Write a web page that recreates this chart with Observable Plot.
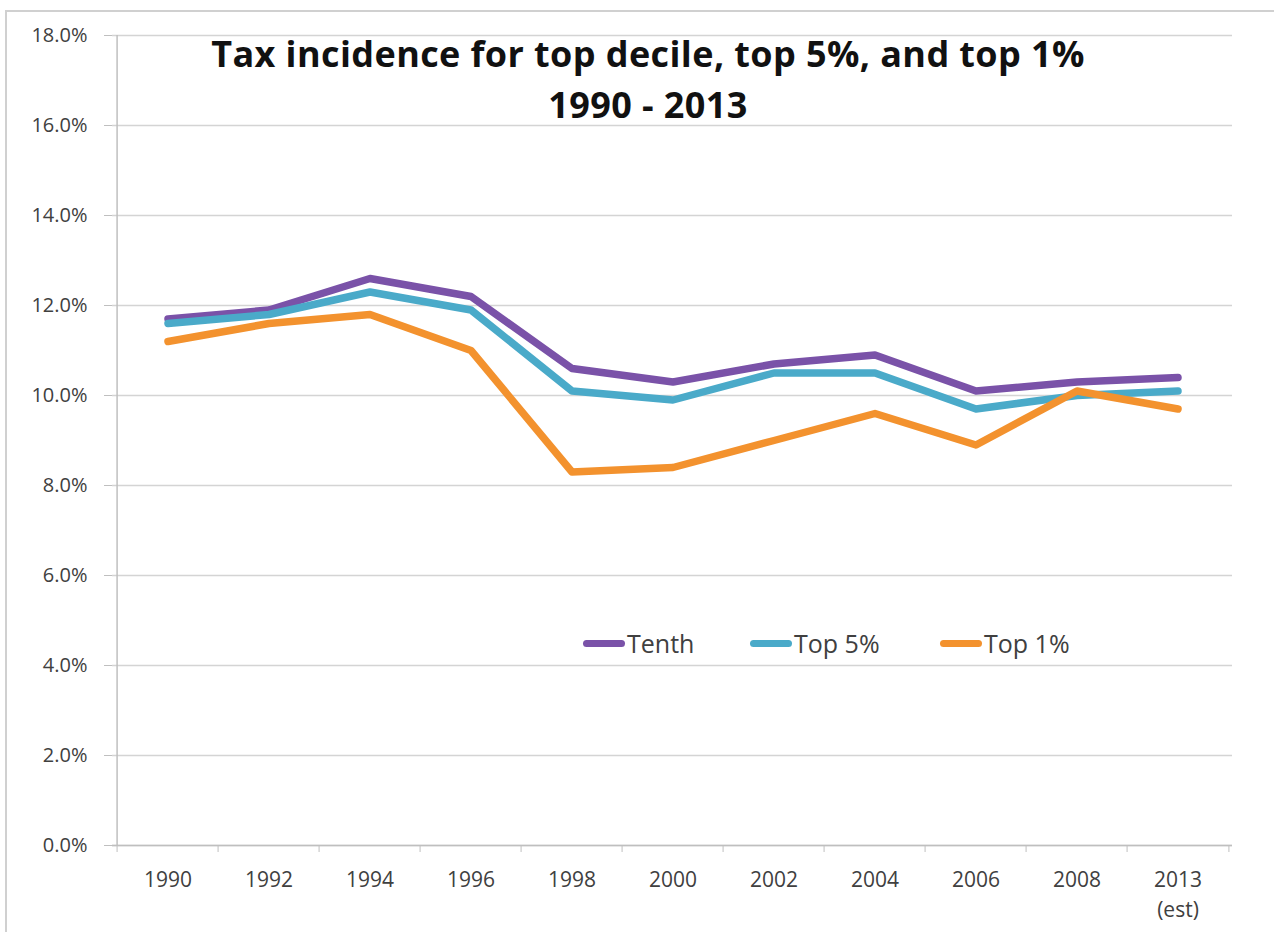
<!DOCTYPE html>
<html>
<head>
<meta charset="utf-8">
<script src="https://cdn.jsdelivr.net/npm/d3@7"></script>
<script src="https://cdn.jsdelivr.net/npm/@observablehq/plot@0.6"></script>
<style>
  html, body { margin: 0; padding: 0; background: #fff; }
  #wrap { position: relative; width: 1274px; height: 932px; overflow: hidden; font-family: "Open Sans", sans-serif; }
  #frame { position: absolute; left: 5px; top: 10px; width: 1290px; height: 940px; border: 2px solid #d0d0d0; box-sizing: border-box; }
  #title { position: absolute; left: 0; width: 1296px; top: 28px; text-align: center; font-weight: bold; font-size: 36px; line-height: 51px; color: #111; letter-spacing: 0.4px; }
  .litem { position: absolute; top: 626px; display: flex; align-items: center; font-size: 25px; color: #404040; }
  .litem .sw { display: inline-block; width: 42px; height: 7px; border-radius: 4px; margin-right: 2px; }
</style>
</head>
<body>
<div id="wrap">
  <div id="frame"></div>
  <div id="chart"></div>
  <div id="title">Tax incidence for top decile, top 5%, and top 1%<br>1990 - 2013</div>
</div>
<script>
const years = ["1990","1992","1994","1996","1998","2000","2002","2004","2006","2008","2013"];
const tickLabels = ["1990","1992","1994","1996","1998","2000","2002","2004","2006","2008","2013\n(est)"];
const seriesNames = ["Tenth", "Top 5%", "Top 1%"];
const seriesColors = ["#7a52a8", "#4aaac9", "#f3922e"];
const tenth = [11.7, 11.9, 12.6, 12.2, 10.6, 10.3, 10.7, 10.9, 10.1, 10.3, 10.4];
const top5  = [11.6, 11.8, 12.3, 11.9, 10.1, 9.9, 10.5, 10.5, 9.7, 10.0, 10.1];
const top1  = [11.2, 11.6, 11.8, 11.0, 8.3, 8.4, 9.0, 9.6, 8.9, 10.1, 9.7];
const yTicks = [0, 2, 4, 6, 8, 10, 12, 14, 16, 18];

const values = [tenth, top5, top1];
const data = [];
seriesNames.forEach((s, i) => years.forEach((y, j) => data.push({series: s, year: y, value: values[i][j]})));

const W = 1274, H = 932;
const mL = 112, mR = 42, mT = 35, mB = 87;
const bw = (W - mL - mR) / years.length;
const labelOf = Object.fromEntries(years.map((y, i) => [y, tickLabels[i]]));

const chart = Plot.plot({
  width: W, height: H,
  marginLeft: mL, marginRight: mR, marginTop: mT, marginBottom: mB,
  style: { fontFamily: "Open Sans, sans-serif", fontSize: "20px", color: "#404040", background: "transparent" },
  x: { type: "band", domain: years, padding: 0 },
  y: { domain: [0, 18] },
  color: { domain: seriesNames, range: seriesColors },
  marks: [
    Plot.gridY(yTicks, { stroke: "#d4d4d4", strokeOpacity: 1, strokeWidth: 1.5 }),
    Plot.ruleY([0], { stroke: "#bfbfbf", strokeWidth: 1.5 }),
    Plot.ruleX([years[0]], { dx: -bw / 2, stroke: "#bfbfbf", strokeWidth: 1.5 }),
    Plot.axisY({ ticks: yTicks, tickSize: 8, tickPadding: 17, stroke: "#bfbfbf", tickFormat: d => d.toFixed(1) + "%", fill: "#404040", fontSize: 20, label: null }),
    Plot.axisX({ ticks: years, tickSize: 7, text: null, dx: -bw / 2, stroke: "#bfbfbf", label: null }),
    Plot.axisX({ ticks: [years[years.length - 1]], tickSize: 7, text: null, dx: bw / 2, stroke: "#bfbfbf", label: null }),
    Plot.axisX({ ticks: years, tickSize: 0, tickPadding: 20, tickFormat: d => labelOf[d], fill: "#404040", fontSize: 21, lineHeight: 1.43, label: null }),
    Plot.line(data, { x: "year", y: "value", z: "series", stroke: "series", strokeWidth: 7.5, strokeLinejoin: "round", strokeLinecap: "round" })
  ]
});
document.getElementById("chart").appendChild(chart);

const wrap = document.getElementById("wrap");
const lefts = [583, 750, 940];
seriesNames.forEach((s, i) => {
  const it = document.createElement("div");
  it.className = "litem";
  it.style.left = lefts[i] + "px";
  it.innerHTML = `<span class="sw" style="background:${seriesColors[i]}"></span><span>${s}</span>`;
  wrap.appendChild(it);
});
</script>
</body>
</html>
